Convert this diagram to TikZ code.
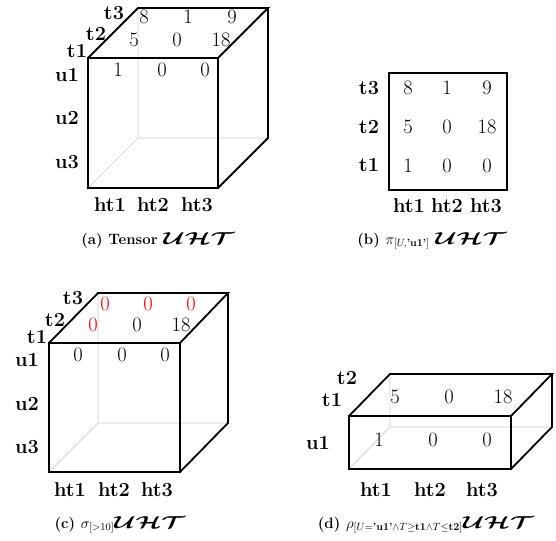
\RequirePackage{fix-cm}
\documentclass[tikz,border=0pt]{standalone}
\usepackage{amsmath,bm,graphicx}
\usetikzlibrary{positioning}
\newcommand{\uht}{\scalebox{1.75}[1.15]{$\boldsymbol{\mathcal{UHT}}$}}

\begin{document}
\begin{tikzpicture}[x=1pt,y=-1pt,
    edge/.style={line width=1.8pt,line join=miter},
    hidden/.style={line width=0.7pt,black!20},
    lbl/.style={font=\fontsize{20}{22}\selectfont\bfseries,inner sep=0pt},
    val/.style={font=\fontsize{20.5}{22}\selectfont,inner sep=0pt},
    subcap/.style={font=\fontsize{15}{17}\selectfont\bfseries,inner sep=0pt}]

    \useasboundingbox (0,0) rectangle (556,540);

    % (a) tensor cube
    \coordinate (af1) at (88,58);   \coordinate (af2) at (218,58);
    \coordinate (af3) at (218,188); \coordinate (af4) at (88,188);
    \coordinate (ab1) at (138,8);   \coordinate (ab2) at (268,8);
    \coordinate (ab3) at (268,138); \coordinate (ab4) at (138,138);
    \draw[hidden] (ab1) -- (ab4) -- (ab3) (ab4) -- (af4);
    \draw[edge] (af1) -- (af2) -- (af3) -- (af4) -- cycle
                (af1) -- (ab1) -- (ab2) -- (af2)
                (ab2) -- (ab3) -- (af3);

    \node[lbl] (at3) at (114,13) {t3};
    \node[lbl] (at2) at (96,34) {t2};
    \node[lbl] (at1) at (77,51) {t1};
    \node[lbl] (au1) at (67,75) {u1};
    \node[lbl] (au2) at (67,118) {u2};
    \node[lbl] (au3) at (67,162) {u3};
    \node[lbl] (aht1) at (110,205) {ht1};
    \node[lbl] (aht2) at (153,205) {ht2};
    \node[lbl] (aht3) at (197,205) {ht3};

    \node[val] (a31) at (144,17) {8};
    \node[val] (a32) at (188,17) {1};
    \node[val] (a33) at (232,17) {9};
    \node[val] (a21) at (134,40) {5};
    \node[val] (a22) at (177,40) {0};
    \node[val] (a23) at (221,40) {18};
    \node[val] (a11) at (118,70) {1};
    \node[val] (a12) at (162,70) {0};
    \node[val] (a13) at (205,70) {0};

    \node[subcap] (capa) at (158,240) {(a) Tensor \uht};

    % (b) slice
    \node[draw,line width=1.8pt,minimum width=118pt,minimum height=117pt,inner sep=0pt] (bbox) at (448,131.5) {};
    \node[lbl] (bt3) at (369,88) {t3};
    \node[lbl] (bt2) at (369,127) {t2};
    \node[lbl] (bt1) at (369,165) {t1};
    \node[val] (b31) at (408,88) {8};
    \node[val] (b32) at (447,88) {1};
    \node[val] (b33) at (487,88) {9};
    \node[val] (b21) at (408,127) {5};
    \node[val] (b22) at (447,127) {0};
    \node[val] (b23) at (487,127) {18};
    \node[val] (b11) at (408,166) {1};
    \node[val] (b12) at (447,166) {0};
    \node[val] (b13) at (487,166) {0};
    \node[lbl] (bht1) at (409,206) {ht1};
    \node[lbl] (bht2) at (447,206) {ht2};
    \node[lbl] (bht3) at (486,206) {ht3};

    \node[subcap] (capb) at (432,241) {(b) $\pi_{[U,\text{'}\mathbf{u1}\text{'}]}$ \uht};

    % (c) selection
    \coordinate (cf1) at (49,343);  \coordinate (cf2) at (180,343);
    \coordinate (cf3) at (180,472); \coordinate (cf4) at (49,472);
    \coordinate (cb1) at (98,293);  \coordinate (cb2) at (228,293);
    \coordinate (cb3) at (228,423); \coordinate (cb4) at (98,423);
    \draw[hidden] (cb1) -- (cb4) -- (cb3) (cb4) -- (cf4);
    \draw[edge] (cf1) -- (cf2) -- (cf3) -- (cf4) -- cycle
                (cf1) -- (cb1) -- (cb2) -- (cf2)
                (cb2) -- (cb3) -- (cf3);

    \node[lbl] (ct3) at (73,298) {t3};
    \node[lbl] (ct2) at (55,320) {t2};
    \node[lbl] (ct1) at (37,337) {t1};
    \node[lbl] (cu1) at (27,360) {u1};
    \node[lbl] (cu2) at (27,404) {u2};
    \node[lbl] (cu3) at (27,447) {u3};
    \node[lbl] (cht1) at (70,490) {ht1};
    \node[lbl] (cht2) at (114,490) {ht2};
    \node[lbl] (cht3) at (157,490) {ht3};

    \node[val,red] (c31) at (105,304) {0};
    \node[val,red] (c32) at (148,304) {0};
    \node[val,red] (c33) at (191,304) {0};
    \node[val,red] (c21) at (93,325) {0};
    \node[val] (c22) at (137,325) {0};
    \node[val] (c23) at (181,325) {18};
    \node[val] (c11) at (78,355) {0};
    \node[val] (c12) at (122,355) {0};
    \node[val] (c13) at (165,355) {0};

    \node[subcap] (capc) at (120,525) {(c) $\sigma_{[>10]}$\uht};

    % (d) range
    \coordinate (df1) at (349,416); \coordinate (df2) at (511,416);
    \coordinate (df3) at (511,469); \coordinate (df4) at (349,469);
    \coordinate (db1) at (390,374); \coordinate (db2) at (552,374);
    \coordinate (db3) at (552,427); \coordinate (db4) at (390,427);
    \draw[hidden] (db1) -- (db4) -- (db3) (db4) -- (df4);
    \draw[edge] (df1) -- (df2) -- (df3) -- (df4) -- cycle
                (df1) -- (db1) -- (db2) -- (df2)
                (db2) -- (db3) -- (df3);

    \node[lbl] (dt2) at (347,378) {t2};
    \node[lbl] (dt1) at (332,400) {t1};
    \node[lbl] (du1) at (318,443) {u1};
    \node[lbl] (dht1) at (376,490) {ht1};
    \node[lbl] (dht2) at (430,490) {ht2};
    \node[lbl] (dht3) at (482,490) {ht3};

    \node[val] (d21) at (395,397) {5};
    \node[val] (d22) at (449,397) {0};
    \node[val] (d23) at (503,397) {18};
    \node[val] (d11) at (379,440) {1};
    \node[val] (d12) at (433,440) {0};
    \node[val] (d13) at (487,440) {0};

    \node[subcap] (capd) at (426,525) {(d) $\rho_{[U=\text{'}\mathbf{u1}\text{'}\wedge T\geq\mathbf{t1}\wedge T\leq\mathbf{t2}]}$\uht};

\end{tikzpicture}
\end{document}
